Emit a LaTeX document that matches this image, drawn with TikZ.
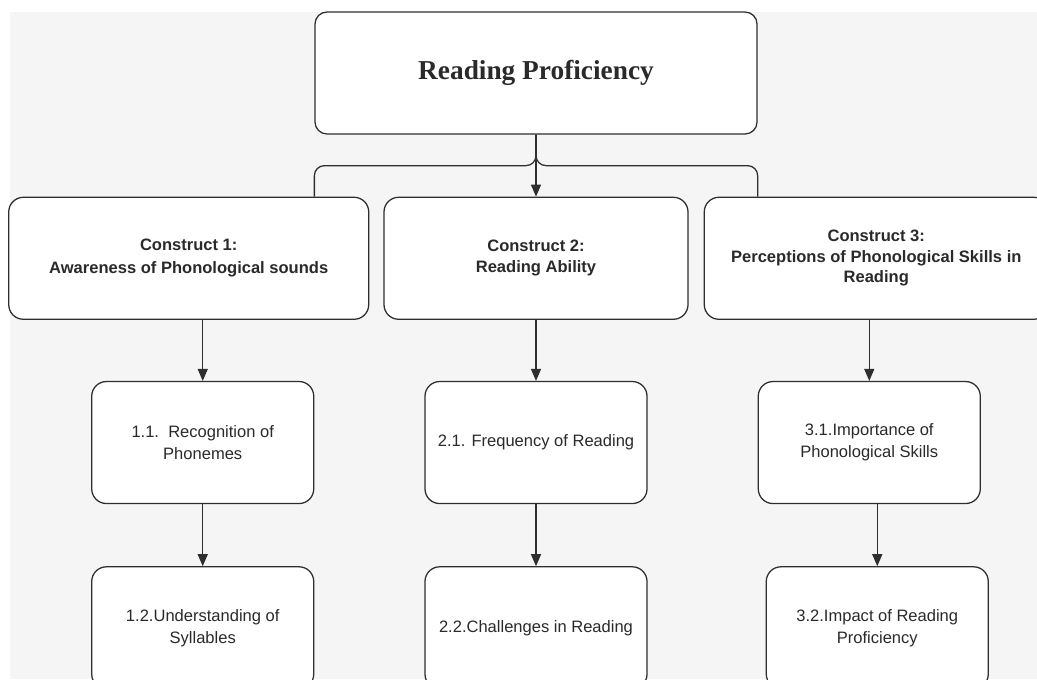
\documentclass[tikz,border=0pt]{standalone}
\usepackage{fontspec}
\setmainfont{Liberation Sans}
\newfontfamily\titlefont{Liberation Serif}
\usepackage{tikz}
\usetikzlibrary{positioning, arrows.meta, calc}
\definecolor{bggray}{HTML}{F5F5F5}
\definecolor{edgegray}{HTML}{2E2E2E}
\definecolor{textgray}{HTML}{2A2A2A}

\begin{document}
\begin{tikzpicture}
	% Define styles
	\tikzset{
		box/.style={rectangle, draw=edgegray, line width=0.95pt, fill=white, rounded corners=11pt, align=center, text=textgray, inner sep=0pt},
		titlebox/.style={box, rounded corners=9pt, minimum width=331.5pt, minimum height=91.5pt, font=\titlefont\bfseries\fontsize{20.5}{24}\selectfont},
		construct/.style={box, minimum height=91.5pt, font=\bfseries\fontsize{12.4}{15.5}\selectfont},
		sub/.style={box, minimum width=166.5pt, minimum height=91.5pt, font=\fontsize{12.4}{16.5}\selectfont},
		line/.style={draw=edgegray, line width=0.95pt, -{Triangle[length=9pt, width=7.5pt]}},
		branch/.style={draw=edgegray, line width=0.95pt, rounded corners=7.5pt}
	}
	
	% Frame
	\useasboundingbox (0,0) rectangle (777.75pt,-509.25pt);
	\clip (0,0) rectangle (777.75pt,-509.25pt);
	\fill[bggray] (7.5pt,-9pt) rectangle (777.75pt,-509.25pt);
	
	% Nodes
	\node[titlebox] (rp) at (402pt,-54.75pt) {Reading Proficiency};
	
	\node[construct, minimum width=228pt, below=46.5pt of rp] (c2) {Construct 2:\\Reading Ability};
	\node[construct, minimum width=270pt, left=10.5pt of c2] (c1) {Construct 1:\\[1.5pt]Awareness of Phonological sounds};
	\node[construct, minimum width=258pt, right=11.25pt of c2] (c3) {Construct 3:\\Perceptions of Phonological Skills in\\Reading};
	
	\node[sub, below=45.75pt of c1, xshift=10.5pt] (s11) {1.1.\ \ Recognition of\\Phonemes};
	\node[sub, below=45.75pt of c2] (s21) {2.1. Frequency of Reading};
	\node[sub, below=45.75pt of c3, xshift=-5.25pt] (s31) {3.1.Importance of\\Phonological Skills};
	
	\node[sub, below=46.5pt of s11] (s12) {1.2.Understanding of\\Syllables};
	\node[sub, below=46.5pt of s21] (s22) {2.2.Challenges in Reading};
	\node[sub, below=46.5pt of s31, xshift=6pt] (s32) {3.2.Impact of Reading\\Proficiency};
	
	% Arrows
	\coordinate (fork) at ($(rp.south)!.5!(c2.north)$);
	\draw[branch] (rp.south) |- (fork -| rp.south west) -- (c1.north -| rp.south west);
	\draw[branch] (rp.south) |- (fork -| rp.south east) -- (c3.north -| rp.south east);
	\draw[line] (rp) -- (c2);
	
	\draw[line] (c1.south -| s11) -- (s11);
	\draw[line] (s11) -- (s12);
	
	\draw[line] (c2) -- (s21);
	\draw[line] (s21) -- (s22);
	
	\draw[line] (c3.south -| s31) -- (s31);
	\draw[line] (s31.south -| s32) -- (s32);
\end{tikzpicture}
\end{document}
